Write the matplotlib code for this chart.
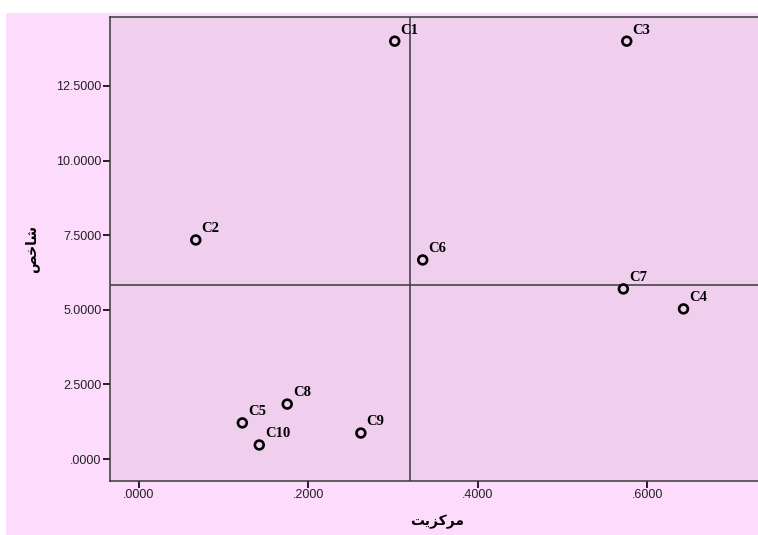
import matplotlib
matplotlib.use("Agg")
from matplotlib import pyplot as plt
from matplotlib.patches import Rectangle

# case labels and their coordinates
labels = ["C1", "C2", "C3", "C4", "C5", "C6", "C7", "C8", "C9", "C10"]
centrality = [0.302, 0.067, 0.576, 0.643, 0.122, 0.335, 0.572, 0.175, 0.262, 0.142]
index_vals = [14.00, 7.34, 14.00, 5.03, 1.21, 6.67, 5.70, 1.84, 0.87, 0.47]

# reference lines (quadrant split)
x_ref = 0.320
y_ref = 5.83

x_ticks = [0.0, 0.2, 0.4, 0.6]
y_ticks = [0.0, 2.5, 5.0, 7.5, 10.0, 12.5]

# Arabic script written in visual order with presentation forms,
# because matplotlib does no shaping / bidi
x_title = "\uFE96\uFBFE\uFEB0\uFB90\uFEAE\uFEE3"   # مرکزیت
y_title = "\uFEBA\uFEA7\uFE8E\uFEB7"               # شاخص

outer_bg = "#FDDBFD"
plot_bg = "#EFCFED"
ink = "#3a3a3a"

fig = plt.figure(figsize=(7.58, 5.35), dpi=100, facecolor="white")
fig.patches.append(Rectangle((6 / 758, 0), 1, (535 - 13) / 535,
                             transform=fig.transFigure, facecolor=outer_bg,
                             edgecolor="none", zorder=-10))

ax = fig.add_axes([110 / 758, 1 - 481 / 535, 1 - 110 / 758, (481 - 17) / 535])
ax.set_zorder(5)
ax.set_facecolor(plot_bg)

ax.axvline(x_ref, color=ink, lw=1.1, zorder=1)
ax.axhline(y_ref, color=ink, lw=1.1, zorder=1)

ax.scatter(centrality, index_vals, s=40, facecolors="none", edgecolors="black",
           linewidths=1.9, zorder=3)
for lab, x, y in zip(labels, centrality, index_vals):
    ax.annotate(lab, (x, y), xytext=(4, 5.5), textcoords="offset points",
                ha="left", va="baseline", fontsize=10.5, fontweight="bold",
                family="Liberation Serif", color="black", zorder=4)

ax.set_xlim(-0.0343, 0.731)
ax.set_ylim(-0.737, 14.81)
ax.set_xticks(x_ticks)
ax.set_yticks(y_ticks)
ax.set_xticklabels([f"{v:.4f}".lstrip("0") for v in x_ticks])
ax.set_yticklabels([f"{v:.4f}".lstrip("0") if v < 1 else f"{v:.4f}" for v in y_ticks])
ax.tick_params(direction="out", length=5, width=1.2, color="black",
               labelsize=9, labelcolor="#222222", pad=1)
for t in ax.get_xticklabels() + ax.get_yticklabels():
    t.set_family("Liberation Sans")

for side in ["left", "bottom", "top"]:
    ax.spines[side].set_color(ink)
    ax.spines[side].set_linewidth(1.1)
ax.spines["right"].set_visible(False)

fig.text(437 / 758, 1 - 522 / 535, x_title, ha="center", va="center",
         fontsize=10, fontweight="bold", family="DejaVu Sans")
fig.text(32 / 758, 1 - 249 / 535, y_title, ha="center", va="center",
         rotation=90, fontsize=10, fontweight="bold", family="DejaVu Sans")

fig.savefig("out.png", dpi=100, facecolor=fig.get_facecolor())
